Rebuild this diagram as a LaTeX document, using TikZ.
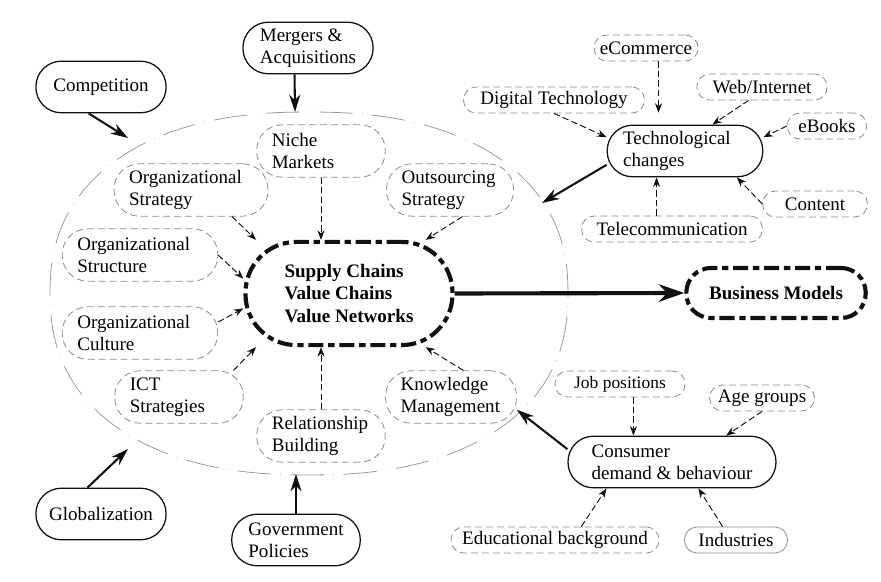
\documentclass[tikz,border=0pt]{standalone}
\usepackage{fontspec}
\setmainfont{Liberation Serif}
\usepackage{xcolor}
\usetikzlibrary{arrows.meta, positioning}
\definecolor{cline}{HTML}{111111}
\definecolor{cgray}{HTML}{8a8a8a}
\definecolor{cfaint}{HTML}{9a9a9a}

\begin{document}
\begin{tikzpicture}[
  x=0.63pt, y=-0.63pt,
  font=\fontsize{12}{14}\selectfont,
  >={Stealth[length=6pt, width=4.5pt]},
  factor/.style={draw=cline, line width=0.8pt, fill=white, rounded corners=16pt,
                 align=left, inner ysep=3pt,
                 minimum height=32.5pt, minimum width=82pt},
  core/.style={draw=cline, line width=2.6pt, fill=white, align=left,
               font=\fontsize{12}{14}\selectfont\bfseries,
               dash pattern=on 9.5pt off 3pt on 4pt off 3pt},
  sub/.style={draw=cgray, line width=0.5pt, fill=white, rounded corners=16pt,
              dash pattern=on 4.4pt off 2.5pt, align=left, inner xsep=9.5pt,
              inner ysep=3pt, minimum height=33pt, text width=#1},
  leaf/.style={draw=cgray, line width=0.5pt, fill=white, rounded corners=8pt,
               dash pattern=on 4.4pt off 2.5pt, inner xsep=2pt, inner ysep=1pt,
               minimum height=16.4pt, minimum width=#1},
  arr/.style={-{Stealth[length=11pt, width=7pt]}, line width=1.3pt, draw=cline},
  darr/.style={->, line width=0.6pt, draw=cline, dash pattern=on 4pt off 2pt},
  ]
\useasboundingbox (0,0) rectangle (881,582);

% environment around the chains
\draw[cfaint, line width=0.5pt, dash pattern=on 21pt off 6pt on 0.3pt off 6pt]
  plot[domain=1:356, samples=72, smooth cycle]
  ({309+259*cos(\x)*abs(cos(\x))^(-0.13)}, {293.5+181.5*sin(\x)*abs(sin(\x))^(-0.13)});
\coordinate (envN) at (295,112);
\coordinate (envNW) at (128,138);
\coordinate (envSW) at (128,449);
\coordinate (envS) at (295,474);
\coordinate (envNE) at (542,203);

% outer drivers
\node[factor] (merger) at (308,48) {Mergers \&\\Acquisitions};
\node[factor] (comp) at (101,87) {Competition};
\node[factor] (glob) at (101,514) {Globalization};
\node[factor, minimum width=81pt] (gov) at (296,540) {Government\\Policies};
\node[factor, inner xsep=10pt, text width=78pt] (tech) at (685,151) {Technological\\changes};
\node[factor, minimum width=131pt] (consumer) at (672,462) {Consumer\\demand \& behaviour};

% core
\node[core, rounded corners=32pt, minimum width=130.4pt, minimum height=65pt] (chains)
  at (349,293.5) {Supply Chains\\Value Chains\\Value Networks};
\node[core, rounded corners=15.5pt, minimum width=113pt, minimum height=31.5pt] (bm)
  at (776,293) {Business Models};

% inner factors
\node[sub=62pt] (niche) at (321,151) {Niche\\Markets};
\node[sub=78pt] (orgstrat) at (191,190) {Organizational\\Strategy};
\node[sub=61pt] (outsrc) at (450,190) {Outsourcing\\Strategy};
\node[sub=79pt] (orgstruct) at (140,255) {Organizational\\Structure};
\node[sub=79pt] (orgcult) at (140,333) {Organizational\\Culture};
\node[sub=62pt] (ict) at (179,397) {ICT\\Strategies};
\node[sub=62pt] (relat) at (321,436) {Relationship\\Building};
\node[sub=63.5pt] (know) at (451,397) {Knowledge\\Management};

% technology leaves
\node[leaf=65.5pt] (ecom) at (646,48) {eCommerce};
\node[leaf=114pt] (digital) at (554,100) {Digital Technology};
\node[leaf=82pt] (web) at (762,87) {Web/Internet};
\node[leaf=50pt] (ebooks) at (827,126) {eBooks};
\node[leaf=66pt] (content) at (815,204) {Content};
\node[leaf=114pt] (telecom) at (672,229) {Telecommunication};

% consumer leaves
\node[leaf=82pt, font=\fontsize{11}{13}\selectfont] (jobs) at (620,384) {Job positions};
\node[leaf=66pt] (age) at (762,398) {Age groups};
\node[leaf=131pt] (edu) at (555,540) {Educational background};
\node[leaf=65pt, solid] (ind) at (736,540) {Industries};

\draw[darr] (niche.south) -- (niche.south |- chains.north);
\draw[darr] (orgstrat.-33) -- (chains.150);
\draw[darr] (orgstruct.east) -- (chains.172);
\draw[darr] (orgcult.8) -- (chains.188);
\draw[darr] (ict.26) -- (chains.210);
\draw[darr] (relat.north) -- (relat.north |- chains.south);
\draw[darr] (know.65) -- (chains.-35);
\draw[darr] (outsrc.-65) -- (chains.35);

\draw[darr, shorten >=7.5pt] (ecom.-47) -- (ecom.-47 |- tech.north);
\draw[darr] (digital.south) -- (tech.170);
\draw[darr] (web.-135) -- (tech.44);
\draw[darr] (ebooks.west) -- (tech.10);
\draw[darr] (content.west) -- (tech.-27);
\draw[darr] (telecom.139) -- (telecom.139 |- tech.south);

\draw[darr] (jobs.-45) -- (jobs.-45 |- consumer.north);
\draw[darr] (age.south) -- (consumer.26);
\draw[darr] (edu.27) -- (consumer.202);
\draw[darr] (ind.135) -- (consumer.-45);

\draw[arr] (merger.-117) -- (envN);
\draw[arr] (comp.245) -- (envNW);
\draw[arr] (glob.117) -- (envSW);
\draw[arr] (gov.north) -- (gov.north |- envS);
\draw[arr] (tech.190) -- (envNE);
\draw[arr] (consumer.173) -- (know.-11);
\draw[-{Stealth[length=16pt, width=11pt]}, line width=2.6pt, draw=cline] (chains.east) -- (bm.west);
\end{tikzpicture}
\end{document}
